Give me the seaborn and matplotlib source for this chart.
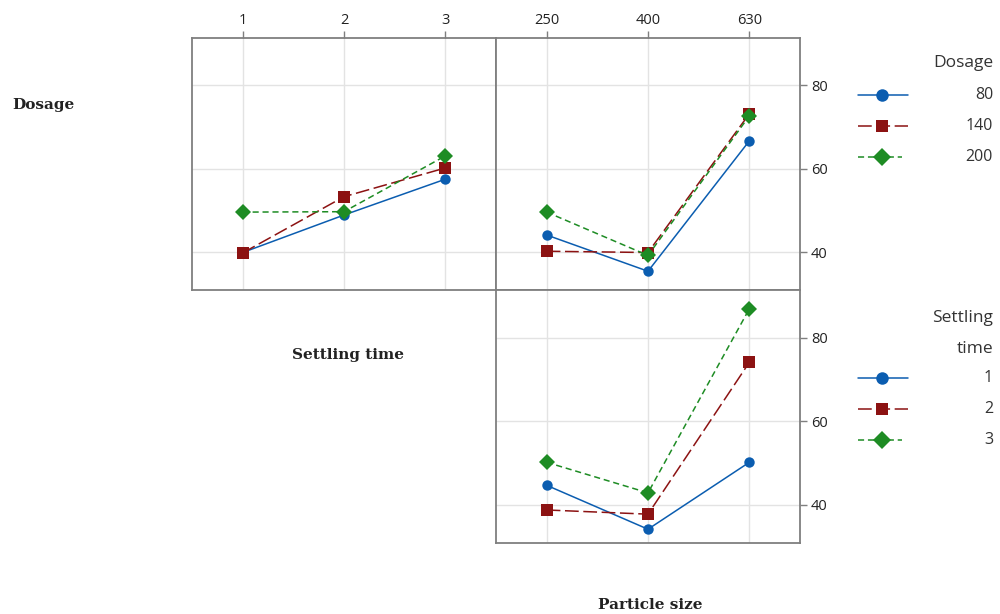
import matplotlib
matplotlib.use('Agg')
import matplotlib.pyplot as plt
import pandas as pd
import seaborn as sns
from matplotlib.lines import Line2D

# Data
settling_time = [1, 2, 3]
particle_size = ['250', '400', '630']
dosage_levels = ['80', '140', '200']
settling_levels = ['1', '2', '3']

# Settling time x Dosage (top left)
st_dose_80 = [39.9, 48.9, 57.5]
st_dose_140 = [39.8, 53.3, 60.2]
st_dose_200 = [49.6, 49.7, 63.1]

# Particle size x Dosage (top right)
ps_dose_80 = [44.1, 35.4, 66.7]
ps_dose_140 = [40.2, 39.9, 73.2]
ps_dose_200 = [49.6, 39.2, 72.7]

# Particle size x Settling time (bottom)
ps_st_1 = [44.7, 34.2, 50.2]
ps_st_2 = [38.8, 37.8, 74.1]
ps_st_3 = [50.2, 42.9, 86.9]

colors = ['#0B5DB0', '#8C1212', '#1E8C24']
markers = ['o', 's', 'D']
dash_list = ['', (9, 3), (4, 2.5)]


def long_frame(x, series, levels):
    rows = []
    for lvl, vals in zip(levels, series):
        for xv, v in zip(x, vals):
            rows.append({'x': xv, 'y': v, 'grp': lvl})
    return pd.DataFrame(rows)


sns.set_style('white')
plt.rcParams['font.family'] = ['Open Sans', 'DejaVu Sans']

fig = plt.figure(figsize=(10, 6.14), dpi=100)
ax_tl = fig.add_axes([0.192, 0.5277, 0.304, 0.4104])
ax_tr = fig.add_axes([0.496, 0.5277, 0.304, 0.4104])
ax_b = fig.add_axes([0.496, 0.1156, 0.304, 0.4121])

panels = [
    (ax_tl, long_frame(settling_time, [st_dose_80, st_dose_140, st_dose_200], dosage_levels), dosage_levels),
    (ax_tr, long_frame(particle_size, [ps_dose_80, ps_dose_140, ps_dose_200], dosage_levels), dosage_levels),
    (ax_b, long_frame(particle_size, [ps_st_1, ps_st_2, ps_st_3], settling_levels), settling_levels),
]

for ax, df, levels in panels:
    sns.lineplot(data=df, x='x', y='y', hue='grp', style='grp', hue_order=levels, style_order=levels,
                 palette=dict(zip(levels, colors)), markers=dict(zip(levels, markers)),
                 dashes=dict(zip(levels, dash_list)), markersize=7.5, markeredgewidth=0,
                 linewidth=1.1, legend=False, ax=ax, sort=False)
    for ln in ax.lines:
        if ln.get_marker() == 'D':
            ln.set_markersize(8)
        elif ln.get_marker() == 's':
            ln.set_markersize(8)
    ax.set_ylim(30.9, 91.4)
    ax.set_yticks([40, 60, 80])
    ax.grid(True, color='#E3E3E3', linewidth=1.0)
    ax.set_axisbelow(True)
    ax.set_xlabel('')
    ax.set_ylabel('')
    for sp in ax.spines.values():
        sp.set_color('#7F7F7F')
        sp.set_linewidth(1.3)
    ax.tick_params(colors='#7F7F7F', labelcolor='#222222', labelsize=10.5, length=5, width=1)

ax_tl.set_xlim(0.5, 3.5)
ax_tl.set_xticks(settling_time)
ax_tr.set_xlim(-0.5, 2.5)
ax_b.set_xlim(-0.5, 2.5)
ax_b.set_xticks([0, 1, 2])

# tick placement
ax_tl.tick_params(axis='x', top=True, bottom=False, labeltop=True, labelbottom=False, pad=2)
ax_tl.tick_params(axis='y', left=False, right=False, labelleft=False)
ax_tr.tick_params(axis='x', top=True, bottom=False, labeltop=True, labelbottom=False, pad=2)
ax_tr.tick_params(axis='y', left=False, right=True, labelleft=False, labelright=True, pad=3)
ax_b.tick_params(axis='x', top=False, bottom=False, labeltop=False, labelbottom=False)
ax_b.tick_params(axis='y', left=False, right=True, labelleft=False, labelright=True, pad=3)

# row / column labels
lab_font = dict(family='DejaVu Serif', fontweight='bold', fontsize=11, color='#222222')
fig.text(0.043, 0.829, 'Dosage', ha='center', va='center', **lab_font)
fig.text(0.348, 0.422, 'Settling time', ha='center', va='center', **lab_font)
fig.text(0.650, 0.014, 'Particle size', ha='center', va='center', **lab_font)


# legends drawn at the right side
def draw_legend(title_lines, labels, y_title, y_first, step):
    for i, t in enumerate(title_lines):
        fig.text(0.993, 1 - (y_title + i * 31) / 614, t, ha='right', va='center',
                 fontsize=12.5, color='#333333')
    for i, lab in enumerate(labels):
        y = 1 - (y_first + i * step) / 614
        ls = '-' if dash_list[i] == '' else (0, dash_list[i])
        x_end = 0.908 if i < 2 else 0.902
        fig.add_artist(Line2D([0.858, x_end], [y, y], color=colors[i], linewidth=1.1,
                              linestyle=ls, transform=fig.transFigure))
        fig.add_artist(Line2D([0.882], [y], color=colors[i], marker=markers[i], markersize=9,
                              markeredgewidth=0, linestyle='none', transform=fig.transFigure))
        fig.text(0.993, y, lab, ha='right', va='center', fontsize=11.5, color='#333333')


draw_legend(['Dosage'], dosage_levels, 63, 95, 31)
draw_legend(['Settling', 'time'], settling_levels, 318, 378, 31)

fig.savefig('out.png', dpi=100)
